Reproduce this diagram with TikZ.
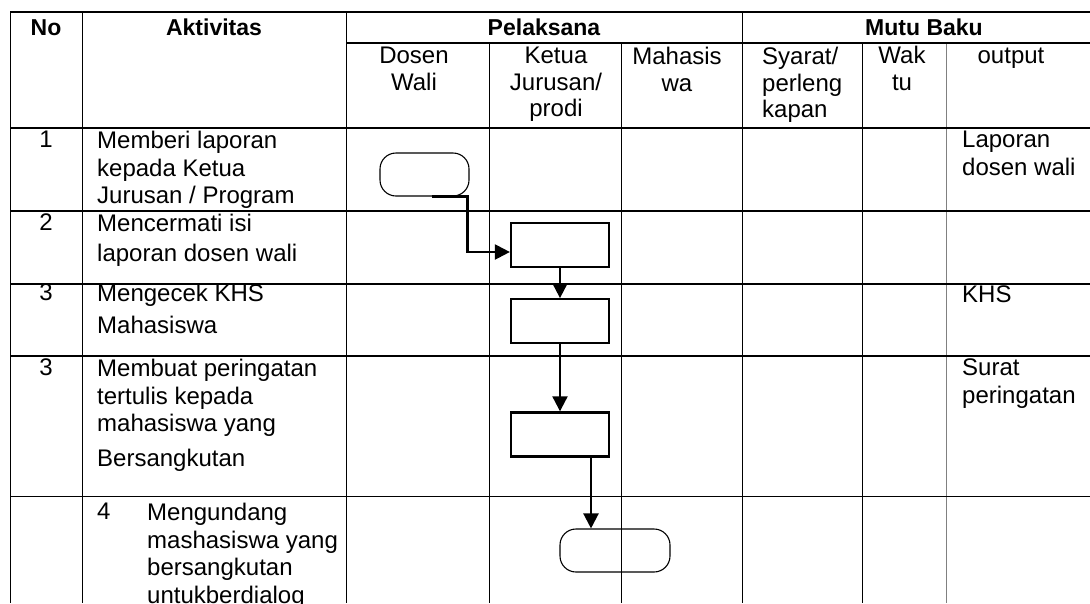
\documentclass[tikz,border=0pt]{standalone}
\usepackage{fontspec}
\setmainfont{Liberation Sans}
\usetikzlibrary{arrows.meta,positioning,calc}

\begin{document}
\begin{tikzpicture}[x=1pt, y=-1pt,
    cell/.style={anchor=north west, inner sep=0pt, align=left,
                 font=\fontsize{24}{27.5}\selectfont},
    num/.style={anchor=north, inner sep=0pt, font=\fontsize{24}{27.5}\selectfont},
    head/.style={anchor=base, inner sep=0pt, font=\fontsize{23}{26}\selectfont\bfseries},
    sub/.style={anchor=north, inner sep=0pt, align=center,
                font=\fontsize{24}{26.5}\selectfont},
    rule/.style={line width=1.6pt},
    grid/.style={line width=0.9pt},
    proc/.style={rectangle, draw, line width=2.2pt, minimum width=98pt, minimum height=44pt},
    term/.style={rectangle, rounded corners=16pt, draw, line width=1.1pt,
                 minimum width=89pt, minimum height=43pt},
    flow/.style={line width=2.2pt, -{Triangle[width=15pt,length=15pt]}},
    >=Stealth
]
\useasboundingbox (0,0) rectangle (1090,603);

\draw[grid] (10,12) -- (10,603);
\foreach \x in {82,346,742} \draw[grid] (\x,12) -- (\x,603);
\foreach \x in {489,621,862} \draw[grid] (\x,43) -- (\x,603);
\draw[grid, gray] (946,43) -- (946,603);
\draw[rule] (10,12) -- (1090,12);
\draw[rule] (346,43) -- (1090,43);
\foreach \y in {128,211,284,356} \draw[rule] (10,\y) -- (1090,\y);
\draw[grid] (10,496) -- (1090,496);

\node[head] (hno)  at (46,35)  {No};
\node[head] (hakt) at (214,35) {Aktivitas};
\node[head] (hpel) at (544,35) {Pelaksana};
\node[head] (hmut) at (924,35) {Mutu Baku};

\node[sub] (hdos) at (414,47) {Dosen\\Wali};
\node[sub] (hket) at (556,47) {Ketua\\Jurusan/\\prodi};
\node[sub] (hmhs) at (677,47) {Mahasis\\wa};
\node[cell, font=\fontsize{24}{26.5}\selectfont] (hsya) at (762,47) {Syarat/\\perleng\\kapan};
\node[sub] (hwak) at (902,46) {Wak\\tu};
\node[sub] (hout) at (1011,48) {output};

\node[num] (no1) at (46,131) {1};
\node[cell] (akt1) at (97,131) {Memberi laporan\\kepada Ketua\\Jurusan / Program};
\node[num] (no2) at (46,214) {2};
\node[cell] (akt2) at (97,214) {Mencermati isi\\[2pt]laporan dosen wali};
\node[num] (no3) at (46,284) {3};
\node[cell] (akt3) at (97,284) {Mengecek KHS\\[4pt]Mahasiswa};
\node[num] (no4) at (46,359) {3};
\node[cell] (akt4) at (97,359) {Membuat peringatan\\tertulis kepada\\mahasiswa yang\\[7pt]Bersangkutan};
\node[cell] (no5) at (97,503) {4};
\node[cell] (akt5) at (147,503) {Mengundang\\mashasiswa yang\\bersangkutan\\untukberdialog};

\node[cell] (out1) at (962,131) {Laporan\\dosen wali};
\node[cell] (out3) at (962,286) {KHS};
\node[cell] (out4) at (962,359) {Surat\\peringatan};

\node[term] (t1) at (424.5,174.5) {};
\node[proc] (r1) at (560,245) {};
\node[proc, below=30pt of r1] (r2) {};
\node[proc, below=67pt of r2] (r3) {};
\node[term, minimum width=110pt] (t2) at (615,550.5) {};

\draw[flow] ([xshift=-38pt]t1.south east) -- ([xshift=-2pt]t1.south east) |- ([yshift=-7pt]r1.west);
\draw[flow] (r1) -- (r2);
\draw[flow] (r2) -- (r3);
\draw[flow] ([xshift=31pt]r3.south) -- ([xshift=31pt]r3.south |- t2.north);
\end{tikzpicture}
\end{document}
